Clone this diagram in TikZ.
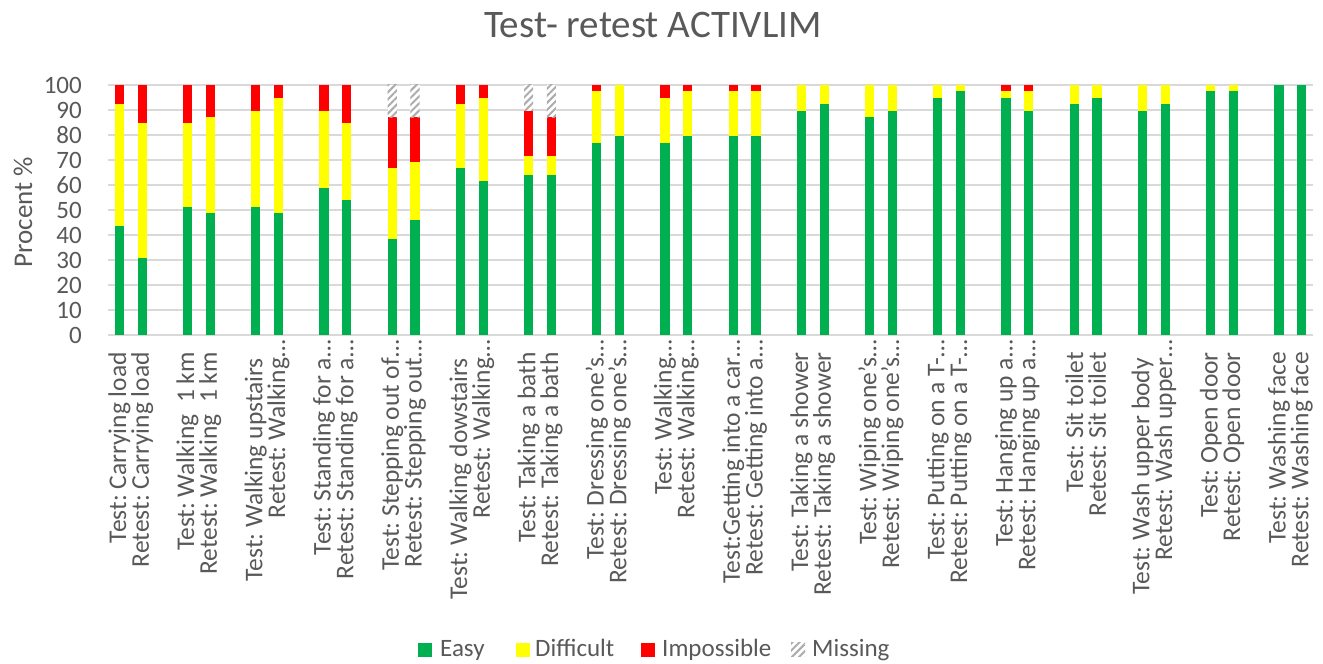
\documentclass[tikz,border=0pt]{standalone}
\usepackage{fontspec}
\setmainfont{Carlito}
\frenchspacing
\usetikzlibrary{patterns.meta}
\definecolor{txt}{HTML}{595959}
\definecolor{gridc}{HTML}{D9D9D9}
\definecolor{easyc}{HTML}{00B050}
\definecolor{diffc}{HTML}{FFFF00}
\definecolor{impc}{HTML}{FF0000}
\begin{document}
\begin{tikzpicture}[x=1pt,y=1pt,
  catlab/.style={font=\fontsize{25.5}{30}\selectfont, text=txt, rotate=90, anchor=east, inner sep=0pt},
  ticklab/.style={font=\fontsize{25}{30}\selectfont, text=txt, anchor=east, inner sep=0pt},
  leglab/.style={font=\fontsize{25}{30}\selectfont, text=txt, anchor=base west, inner sep=0pt},
  gridline/.style={draw=gridc, line width=1.2pt},
  misshatch/.style={fill=white, pattern={Lines[angle=45,distance=5pt,line width=2pt]}, pattern color=gray!65},
  legsq/.style={minimum size=14pt, inner sep=0pt, anchor=south west}]
\useasboundingbox (0,0) rectangle (1323,664);
\fill[white] (0,0) rectangle (1323,664);
% title
\node[font=\fontsize{39}{44}\selectfont, text=txt, anchor=base, inner sep=0pt] (title) at (653,626) {Test- retest ACTIVLIM};
% axis title
\node[font=\fontsize{27}{32}\selectfont, text=txt, rotate=90, inner sep=0pt] (ytitle) at (23,452) {Procent \%};
% grid and tick labels
\foreach \v in {0,10,...,100} {
  \coordinate (gl\v) at (108,{329+2.5*\v});
  \coordinate (gr\v) at (1313,{329+2.5*\v});
  \draw[gridline] (gl\v) -- (gr\v);
  \node[ticklab] (tick\v) at (82,{329+2.5*\v}) {\v};
}
% bars: index / easy / easy+difficult / easy+difficult+impossible (n = 39)
\foreach \i/\g/\gy/\gyr in {0/17/36/39, 1/12/33/39, 3/20/33/39, 4/19/34/39,
  6/20/35/39, 7/19/37/39, 9/23/35/39, 10/21/33/39, 12/15/26/34, 13/18/27/34,
  15/26/36/39, 16/24/37/39, 18/25/28/35, 19/25/28/34, 21/30/38/39, 22/31/39/39,
  24/30/37/39, 25/31/38/39, 27/31/38/39, 28/31/38/39, 30/35/39/39, 31/36/39/39,
  33/34/39/39, 34/35/39/39, 36/37/39/39, 37/38/39/39, 39/37/38/39, 40/35/38/39,
  42/36/39/39, 43/37/39/39, 45/35/39/39, 46/36/39/39, 48/38/39/39, 49/38/39/39,
  51/39/39/39, 52/39/39/39} {
  \pgfmathsetmacro\bx{108+22.736*(\i+0.5)}
  \pgfmathsetmacro\ya{329+250*\g/39}
  \pgfmathsetmacro\yb{329+250*\gy/39}
  \pgfmathsetmacro\yc{329+250*\gyr/39}
  \fill[easyc] ({\bx-4.6},329) rectangle ({\bx+4.6},\ya);
  \ifnum\gy>\g \fill[diffc] ({\bx-4.6},\ya) rectangle ({\bx+4.6},\yb); \fi
  \ifnum\gyr>\gy \fill[impc] ({\bx-4.6},\yb) rectangle ({\bx+4.6},\yc); \fi
  \ifnum\gyr<39
    \fill[white] ({\bx-4.6},\yc) rectangle ({\bx+4.6},579);
    \path[misshatch] ({\bx-4.6},\yc) rectangle ({\bx+4.6},579);
  \fi
}
% category labels
\foreach \i/\t/\top in {0/{Test: Carrying load}/312, 1/{Retest: Carrying load}/312,
  3/{Test: Walking\ \ 1 km}/312, 4/{Retest: Walking\ \ 1 km}/312,
  6/{Test: Walking upstairs}/306, 7/{Retest: Walking…}/324,
  9/{Test: Standing for a…}/324, 10/{Retest: Standing for a…}/324,
  12/{Test: Stepping out of…}/324, 13/{Retest: Stepping out…}/324,
  15/{Test: Walking dowstairs}/306, 16/{Retest: Walking…}/324,
  18/{Test: Taking a bath}/312, 19/{Retest: Taking a bath}/312,
  21/{Test: Dressing one's…}/324, 22/{Retest: Dressing one's…}/324,
  24/{Test: Walking…}/324, 25/{Retest: Walking…}/324,
  27/{Test:Getting into a car…}/324, 28/{Retest: Getting into a…}/324,
  30/{Test: Taking a shower}/312, 31/{Retest: Taking a shower}/312,
  33/{Test: Wiping one's…}/324, 34/{Retest: Wiping one's…}/324,
  36/{Test: Putting on a T-…}/324, 37/{Retest: Putting on a T-…}/324,
  39/{Test: Hanging up a…}/324, 40/{Retest: Hanging up a…}/324,
  42/{Test: Sit toilet}/312, 43/{Retest: Sit toilet}/312,
  45/{Test: Wash upper body}/306, 46/{Retest: Wash upper…}/324,
  48/{Test: Open door}/312, 49/{Retest: Open door}/312,
  51/{Test: Washing face}/312, 52/{Retest: Washing face}/312} {
  \pgfmathsetmacro\bx{108+22.736*(\i+0.5)}
  \node[catlab] (lab\i) at (\bx,\top) {\t};
}
% legend
\node[legsq, fill=easyc] (sqeasy) at (418,7) {};
\node[leglab] (legeasy) at (440,7) {Easy};
\node[legsq, fill=diffc] (sqdiff) at (516,7) {};
\node[leglab] (legdiff) at (535,7) {Difficult};
\node[legsq, fill=impc] (sqimp) at (641,7) {};
\node[leglab] (legimp) at (662,7) {Impossible};
\node[legsq, misshatch] (sqmiss) at (791,7) {};
\node[leglab] (legmiss) at (812,7) {Missing};
\end{tikzpicture}
\end{document}
